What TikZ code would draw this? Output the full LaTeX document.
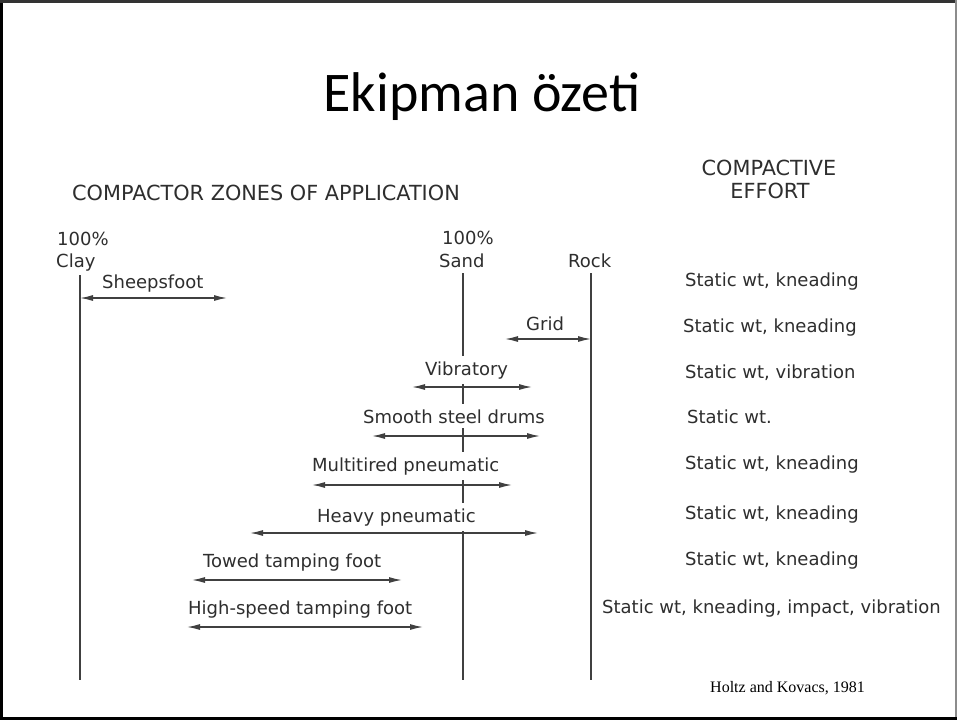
\documentclass[tikz,border=0pt]{standalone}
\usepackage{fontspec}
\newfontfamily\bodyfont{DejaVu Sans}
\newfontfamily\titlefont{Carlito}
\newfontfamily\reffont{Liberation Serif}
\usetikzlibrary{arrows.meta}
\definecolor{ink}{HTML}{2E2E2E}
\definecolor{rulec}{HTML}{404040}
\begin{document}
\begin{tikzpicture}[x=1pt,y=-1pt,
  txt/.style={font=\bodyfont\fontsize{18}{21}\selectfont, text=ink, inner sep=0pt, anchor=base west},
  head/.style={font=\bodyfont\fontsize{20.8}{23}\selectfont, text=ink, inner sep=0pt, anchor=base west},
  lbl/.style={txt, fill=white, inner xsep=2pt, inner ysep=5pt},
  vline/.style={draw=rulec, line width=1.6pt},
  arr/.style={draw=rulec, line width=1.3pt, {Latex[length=13pt,width=6pt]}-{Latex[length=13pt,width=6pt]}}]
\useasboundingbox (0,0) rectangle (957,720);
\fill[white] (0,0) rectangle (957,720);
% frame
\draw[line width=2.5pt, black] (1.25,0) -- (1.25,720);
\draw[line width=2.5pt, black!80] (0,1.25) -- (957,1.25);
\draw[line width=2pt, black!45] (956,0) -- (956,720);
\draw[line width=3pt, black] (0,718.5) -- (957,718.5);

% title
\node[font=\titlefont\fontsize{56}{60}\selectfont, inner sep=0pt, anchor=base] (title) at (482,111) {Ekipman özeti};

% headings
\node[head] (zones) at (72,200) {COMPACTOR ZONES OF APPLICATION};
\node[head, anchor=base] (eff1) at (769,175) {COMPACTIVE};
\node[head, anchor=base] (eff2) at (770,198) {EFFORT};

% column headings
\node[txt] (clayp) at (57,245) {100\%};
\node[txt] (clay) at (56,267) {Clay};
\node[txt] (sandp) at (442,244) {100\%};
\node[txt] (sand) at (439,267) {Sand};
\node[txt] (rock) at (568,267) {Rock};

% vertical lines
\coordinate (claytop) at (80,275);
\coordinate (claybot) at (80,680);
\coordinate (sandtop) at (463,273);
\coordinate (sandbot) at (463,680);
\coordinate (rocktop) at (591,273);
\coordinate (rockbot) at (591,680);
\draw[vline] (claytop) -- (claybot);
\draw[vline] (sandtop) -- (sandbot);
\draw[vline] (rocktop) -- (rockbot);

% labels (white background hides the sand line)
\node[lbl] (sheep) at (100,288) {Sheepsfoot};
\node[lbl] (grid) at (524,330) {Grid};
\node[lbl] (vib) at (423,375) {Vibratory};
\node[lbl] (smooth) at (361,423) {Smooth steel drums};
\node[lbl] (multi) at (310,471) {Multitired pneumatic};
\node[lbl] (heavy) at (315,522) {Heavy pneumatic};
\node[lbl] (towed) at (201,567) {Towed tamping foot};
\node[lbl] (hspeed) at (186,614) {High-speed tamping foot};

% arrow end points
\coordinate (sheepL) at (80,298);   \coordinate (sheepR) at (227,298);
\coordinate (gridL) at (505,339);   \coordinate (gridR) at (591,339);
\coordinate (vibL) at (412,387);    \coordinate (vibR) at (532,387);
\coordinate (smoothL) at (372,436); \coordinate (smoothR) at (540,436);
\coordinate (multiL) at (312,485);  \coordinate (multiR) at (512,485);
\coordinate (heavyL) at (250,533);  \coordinate (heavyR) at (538,533);
\coordinate (towedL) at (192,580);  \coordinate (towedR) at (402,580);
\coordinate (hspeedL) at (187,627); \coordinate (hspeedR) at (423,627);

\draw[arr] (sheepL) -- (sheepR);
\draw[arr] (gridL) -- (gridR);
\draw[arr] (vibL) -- (vibR);
\draw[arr] (smoothL) -- (smoothR);
\draw[arr] (multiL) -- (multiR);
\draw[arr] (heavyL) -- (heavyR);
\draw[arr] (towedL) -- (towedR);
\draw[arr] (hspeedL) -- (hspeedR);

% compactive effort column
\node[txt] (e1) at (685,286) {Static wt, kneading};
\node[txt] (e2) at (683,332) {Static wt, kneading};
\node[txt] (e3) at (685,378) {Static wt, vibration};
\node[txt] (e4) at (687,423) {Static wt.};
\node[txt] (e5) at (685,469) {Static wt, kneading};
\node[txt] (e6) at (685,519) {Static wt, kneading};
\node[txt] (e7) at (685,565) {Static wt, kneading};
\node[txt] (e8) at (602,613) {Static wt, kneading, impact, vibration};

% source
\node[font=\reffont\fontsize{16}{18}\selectfont, inner sep=0pt, anchor=base west] (src) at (710,692) {Holtz and Kovacs, 1981};
\end{tikzpicture}
\end{document}
